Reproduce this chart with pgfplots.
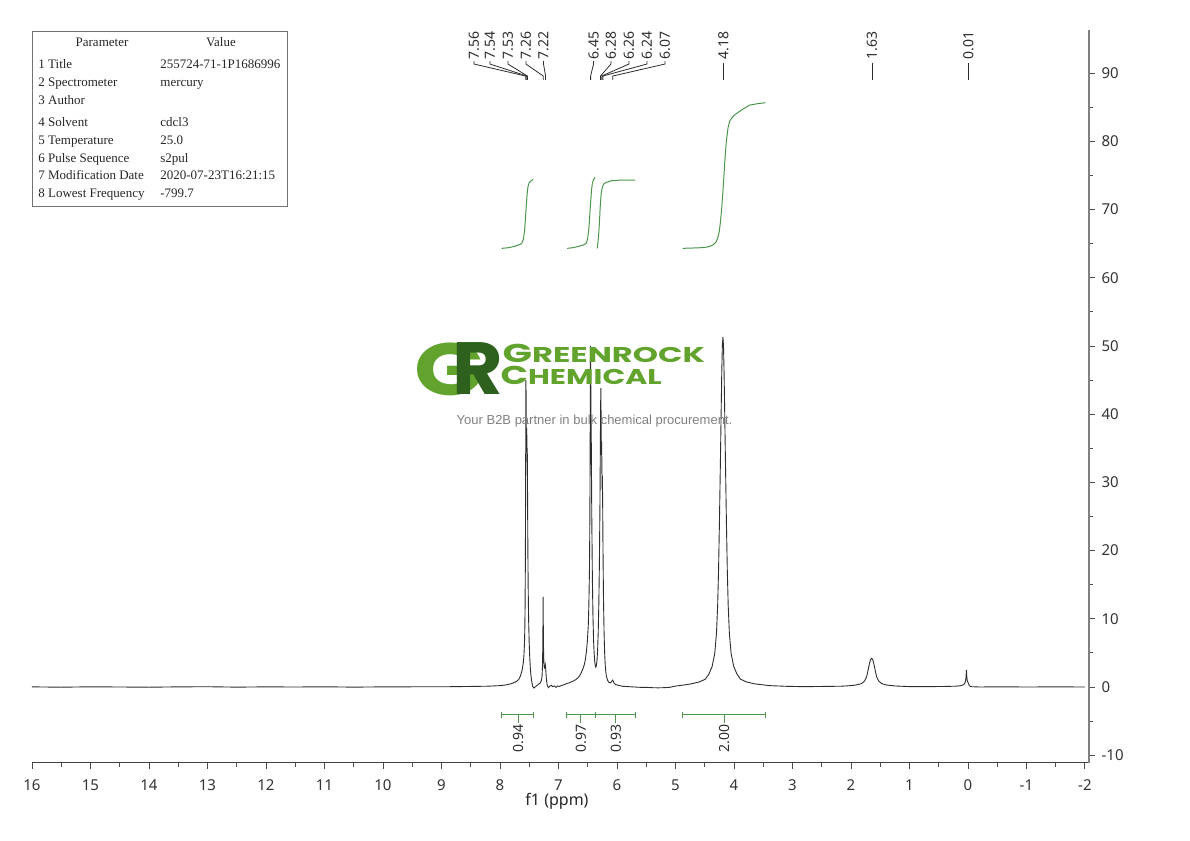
\documentclass[border=0pt]{standalone}
\usepackage{pgfplots}
\pgfplotsset{compat=1.18}
\usepackage{fontspec}
\setmainfont{Noto Sans}
\newfontfamily\tablefont{Liberation Serif}
\newfontfamily\logofont{Poppins}
\newfontfamily\tagfont{Liberation Sans}
\definecolor{spec}{RGB}{45,45,45}
\definecolor{intg}{RGB}{76,150,76}
\definecolor{logolight}{RGB}{98,163,46}
\definecolor{logodark}{RGB}{46,96,30}
\newcommand\pkf{\fontsize{7}{8}\selectfont}
\begin{document}
\begin{tikzpicture}
\useasboundingbox (-16pt,-39pt) rectangle (579pt,381.5pt);
\begin{axis}[
  scale only axis, width=528.5pt, height=366.5pt,
  at={(0,0)}, anchor=south west,
  x dir=reverse, xmin=-2.07, xmax=16, ymin=-11.14, ymax=96.31,
  axis x line*=bottom, axis y line*=right,
  x axis line style={draw=black!75, line width=0.5pt},
  y axis line style={draw=black!50, line width=1.1pt},
  xtick={-2,-1,...,16}, minor x tick num=1,
  ytick={-10,0,...,90}, minor y tick num=1,
  tick align=outside,
  major tick length=2.8pt, minor tick length=2pt,
  tick style={draw=black!70, line width=0.4pt},
  /pgf/number format/assume math mode=true,
  xticklabel style={font=\fontsize{7.5}{9}\selectfont, text=black!80, yshift=-2pt},
  yticklabel style={font=\fontsize{7.5}{9}\selectfont, text=black!80},
  clip=false,
]
\addplot[spec, line width=0.45pt] coordinates {
(16,0.02) (15.5,-0.03) (15,0.03) (14.5,0) (14,-0.03) (13.5,0.02) (13,0.04) (12.5,-0.02)
(12,0.02) (11.5,0) (11,0.03) (10.5,-0.02) (10,0.02) (9.5,0.03) (9,0.03) (8.5,0.08)
(8.2,0.12) (8.0,0.2) (7.9,0.3) (7.8,0.5) (7.72,0.8) (7.68,1.1) (7.65,1.6) (7.62,2.5)
(7.60,3.6) (7.59,4.6) (7.58,6.5) (7.575,8.5) (7.57,12) (7.565,19) (7.561,30) (7.558,40)
(7.556,45) (7.553,43) (7.549,36) (7.545,38) (7.541,37) (7.537,33) (7.533,35) (7.529,30)
(7.524,22) (7.518,15) (7.51,10) (7.50,6.5) (7.49,4.2) (7.48,2.7) (7.47,1.7) (7.46,1.0)
(7.45,0.5) (7.44,0.1) (7.42,-0.15) (7.40,0.0) (7.37,0.2) (7.34,0.4) (7.31,0.6) (7.29,1.0)
(7.28,1.6) (7.272,3.2) (7.266,7) (7.262,13.2) (7.258,8) (7.253,4.5) (7.245,3.0) (7.235,2.8)
(7.225,3.3) (7.218,2.8) (7.21,1.6) (7.20,0.7) (7.19,0.2) (7.17,-0.1) (7.15,0.1) (7.12,0.25)
(7.10,0.05) (7.07,0.15) (7.04,-0.05) (7.01,0.15) (6.98,0.1) (6.94,0.25) (6.90,0.35) (6.86,0.5)
(6.82,0.6) (6.78,0.75) (6.74,0.9) (6.70,1.1) (6.66,1.4) (6.62,1.9) (6.59,2.5) (6.56,3.2)
(6.54,4.0) (6.52,5.3) (6.505,6.8) (6.49,9) (6.48,12) (6.47,17) (6.465,22) (6.46,30)
(6.456,40) (6.452,50) (6.448,46) (6.444,40) (6.44,38) (6.436,33) (6.43,25) (6.42,16)
(6.41,10.5) (6.40,7) (6.39,5) (6.38,3.8) (6.37,3.1) (6.36,2.9) (6.35,3.2) (6.34,4.0)
(6.33,5.5) (6.32,8) (6.31,12) (6.30,18) (6.29,27) (6.284,35) (6.279,41) (6.275,43.8)
(6.271,40) (6.267,34) (6.263,36) (6.259,34) (6.254,29) (6.249,31) (6.244,27) (6.238,20)
(6.23,13) (6.22,8) (6.21,5) (6.20,3.2) (6.19,2.2) (6.18,1.6) (6.16,1.0) (6.14,0.7)
(6.11,0.6) (6.09,0.8) (6.075,1.0) (6.065,0.9) (6.05,0.6) (6.03,0.4) (6.0,0.3) (5.95,0.2)
(5.9,0.1) (5.8,0.05) (5.7,0.0) (5.6,-0.05) (5.5,-0.05) (5.4,-0.1) (5.3,-0.12) (5.2,-0.1)
(5.1,-0.05) (4.988,0.15) (4.85,0.3) (4.738,0.45) (4.588,0.75) (4.488,1.15) (4.428,1.9) (4.373,3.0)
(4.328,4.9) (4.298,7.9) (4.278,12) (4.263,17) (4.248,24) (4.233,32) (4.218,40.5) (4.208,46)
(4.198,50) (4.188,51.3) (4.178,50) (4.168,46) (4.158,40.5) (4.143,32) (4.128,24) (4.113,17)
(4.098,12) (4.078,7.9) (4.048,4.9) (4.003,3.0) (3.948,1.9) (3.888,1.15) (3.788,0.75) (3.638,0.45)
(3.388,0.2) (3.1,0.1) (2.8,0.05) (2.5,0.08) (2.3,0.1) (2.15,0.12) (2.046,0.18) (1.95,0.25)
(1.896,0.32) (1.816,0.5) (1.766,0.9) (1.731,1.5) (1.706,2.5) (1.686,3.3) (1.666,4.0) (1.646,4.2)
(1.626,4.0) (1.606,3.3) (1.586,2.5) (1.561,1.5) (1.526,0.9) (1.476,0.5) (1.396,0.3) (1.246,0.15)
(1.0,0.06) (0.7,0.05) (0.4,0.08) (0.2,0.12) (0.12,0.2) (0.07,0.35) (0.045,0.7) (0.032,1.4)
(0.025,2.5) (0.018,1.4) (0.01,0.9) (0.0,0.7) (-0.01,0.5) (-0.025,0.2) (-0.05,0.05) (-0.2,0.0)
(-0.5,0.03) (-1,0) (-1.5,0.02) (-2,0)
};
% integral curves
\addplot[intg, line width=0.5pt] coordinates {
(7.97,64.3) (7.85,64.4) (7.75,64.6) (7.68,64.8) (7.63,65.0) (7.60,65.6) (7.58,66.8)
(7.565,68.5) (7.55,70.5) (7.535,72.3) (7.52,73.4) (7.50,73.9) (7.47,74.2) (7.43,74.4)};
\addplot[intg, line width=0.5pt] coordinates {
(6.85,64.3) (6.75,64.4) (6.65,64.6) (6.57,64.8) (6.52,65.1) (6.50,65.8) (6.48,67.2)
(6.465,69.0) (6.45,71.0) (6.435,72.8) (6.42,73.8) (6.40,74.4) (6.37,74.7)};
\addplot[intg, line width=0.5pt] coordinates {
(6.337,64.3) (6.33,64.8) (6.315,66.0) (6.30,68.0) (6.285,70.5) (6.27,72.3) (6.25,73.3)
(6.22,73.8) (6.17,74.0) (6.10,74.2) (5.95,74.3) (5.69,74.3)};
\addplot[intg, line width=0.5pt] coordinates {
(4.877,64.3) (4.7,64.35) (4.55,64.4) (4.45,64.5) (4.38,64.7) (4.33,65.0) (4.30,65.3)
(4.27,66.0) (4.25,66.8) (4.23,68.2) (4.21,70.0) (4.19,72.4) (4.17,75.0) (4.15,77.8)
(4.13,80.0) (4.10,82.0) (4.07,83.0) (4.03,83.5) (3.98,83.9) (3.95,84.1) (3.85,84.7)
(3.73,85.3) (3.6,85.5) (3.46,85.65)};
% integration bars
\draw[intg, line width=0.5pt] (axis cs:7.97,-4.1) -- (axis cs:7.42,-4.1);
\draw[intg, line width=0.5pt] (axis cs:7.97,-3.66) -- (axis cs:7.97,-4.54);
\draw[intg, line width=0.5pt] (axis cs:7.42,-3.66) -- (axis cs:7.42,-4.54);
\draw[intg, line width=0.5pt] (axis cs:7.687,-4.1) -- (axis cs:7.687,-5.28);
\draw[intg, line width=0.5pt] (axis cs:6.86,-4.1) -- (axis cs:5.68,-4.1);
\draw[intg, line width=0.5pt] (axis cs:6.86,-3.66) -- (axis cs:6.86,-4.54);
\draw[intg, line width=0.5pt] (axis cs:6.36,-3.66) -- (axis cs:6.36,-4.54);
\draw[intg, line width=0.5pt] (axis cs:5.68,-3.66) -- (axis cs:5.68,-4.54);
\draw[intg, line width=0.5pt] (axis cs:6.615,-4.1) -- (axis cs:6.615,-5.28);
\draw[intg, line width=0.5pt] (axis cs:6.017,-4.1) -- (axis cs:6.017,-5.28);
\draw[intg, line width=0.5pt] (axis cs:4.877,-4.1) -- (axis cs:3.46,-4.1);
\draw[intg, line width=0.5pt] (axis cs:4.877,-3.66) -- (axis cs:4.877,-4.54);
\draw[intg, line width=0.5pt] (axis cs:3.46,-3.66) -- (axis cs:3.46,-4.54);
\draw[intg, line width=0.5pt] (axis cs:4.166,-4.1) -- (axis cs:4.166,-5.28);
\node[rotate=90, anchor=west, inner sep=0, font=\pkf, text=spec] at (axis cs:7.687,-9.67) {0.94};
\node[rotate=90, anchor=west, inner sep=0, font=\pkf, text=spec] at (axis cs:6.615,-9.67) {0.97};
\node[rotate=90, anchor=west, inner sep=0, font=\pkf, text=spec] at (axis cs:6.017,-9.67) {0.93};
\node[rotate=90, anchor=west, inner sep=0, font=\pkf, text=spec] at (axis cs:4.166,-9.67) {2.00};
% peak labels
\draw[spec, line width=0.4pt] (axis cs:8.444,91.76) -- (axis cs:8.444,91.32) -- (axis cs:7.56,89.56) -- (axis cs:7.56,88.98);
\draw[spec, line width=0.4pt] (axis cs:8.171,91.76) -- (axis cs:8.171,91.32) -- (axis cs:7.54,89.56) -- (axis cs:7.54,88.98);
\draw[spec, line width=0.4pt] (axis cs:7.863,91.76) -- (axis cs:7.863,91.32) -- (axis cs:7.53,89.56) -- (axis cs:7.53,88.98);
\draw[spec, line width=0.4pt] (axis cs:7.556,91.76) -- (axis cs:7.556,91.32) -- (axis cs:7.26,89.56) -- (axis cs:7.26,88.98);
\draw[spec, line width=0.4pt] (axis cs:7.255,91.76) -- (axis cs:7.255,91.32) -- (axis cs:7.22,89.56) -- (axis cs:7.22,88.98);
\draw[spec, line width=0.4pt] (axis cs:6.400,91.76) -- (axis cs:6.400,91.32) -- (axis cs:6.45,89.56) -- (axis cs:6.45,88.98);
\draw[spec, line width=0.4pt] (axis cs:6.103,91.76) -- (axis cs:6.103,91.32) -- (axis cs:6.28,89.56) -- (axis cs:6.28,88.98);
\draw[spec, line width=0.4pt] (axis cs:5.795,91.76) -- (axis cs:5.795,91.32) -- (axis cs:6.26,89.56) -- (axis cs:6.26,88.98);
\draw[spec, line width=0.4pt] (axis cs:5.487,91.76) -- (axis cs:5.487,91.32) -- (axis cs:6.24,89.56) -- (axis cs:6.24,88.98);
\draw[spec, line width=0.4pt] (axis cs:5.179,91.76) -- (axis cs:5.179,91.32) -- (axis cs:6.07,89.56) -- (axis cs:6.07,88.98);
\draw[spec, line width=0.4pt] (axis cs:4.18,91.47) -- (axis cs:4.18,88.98);
\draw[spec, line width=0.4pt] (axis cs:1.64,91.47) -- (axis cs:1.64,88.98);
\draw[spec, line width=0.4pt] (axis cs:-0.01,91.47) -- (axis cs:-0.01,88.98);
\node[rotate=90, anchor=west, inner sep=0, font=\pkf, text=spec] at (axis cs:8.444,91.91) {7.56};
\node[rotate=90, anchor=west, inner sep=0, font=\pkf, text=spec] at (axis cs:8.171,91.91) {7.54};
\node[rotate=90, anchor=west, inner sep=0, font=\pkf, text=spec] at (axis cs:7.863,91.91) {7.53};
\node[rotate=90, anchor=west, inner sep=0, font=\pkf, text=spec] at (axis cs:7.556,91.91) {7.26};
\node[rotate=90, anchor=west, inner sep=0, font=\pkf, text=spec] at (axis cs:7.255,91.91) {7.22};
\node[rotate=90, anchor=west, inner sep=0, font=\pkf, text=spec] at (axis cs:6.400,91.91) {6.45};
\node[rotate=90, anchor=west, inner sep=0, font=\pkf, text=spec] at (axis cs:6.103,91.91) {6.28};
\node[rotate=90, anchor=west, inner sep=0, font=\pkf, text=spec] at (axis cs:5.795,91.91) {6.26};
\node[rotate=90, anchor=west, inner sep=0, font=\pkf, text=spec] at (axis cs:5.487,91.91) {6.24};
\node[rotate=90, anchor=west, inner sep=0, font=\pkf, text=spec] at (axis cs:5.179,91.91) {6.07};
\node[rotate=90, anchor=west, inner sep=0, font=\pkf, text=spec] at (axis cs:4.18,91.91) {4.18};
\node[rotate=90, anchor=west, inner sep=0, font=\pkf, text=spec] at (axis cs:1.64,91.91) {1.63};
\node[rotate=90, anchor=west, inner sep=0, font=\pkf, text=spec] at (axis cs:-0.01,91.91) {0.01};
\end{axis}
% x label
\node[font=\fontsize{8}{9}\selectfont, text=black!85] at (262.5pt,-19pt) {f1 (ppm)};
% parameter table
\draw[black!55, line width=0.5pt] (0.5pt,278pt) rectangle (127.5pt,365.5pt);
\begin{scope}[every node/.style={inner sep=0, font=\tablefont\fontsize{6.5}{7}\selectfont, text=black!85}]
\node[anchor=base] at (35pt,358pt) {Parameter};
\node[anchor=base] at (94.5pt,358pt) {Value};
\node[anchor=base west] at (3pt,347pt) {1 Title};
\node[anchor=base west] at (64pt,347pt) {255724-71-1P1686996};
\node[anchor=base west] at (3pt,338pt) {2 Spectrometer};
\node[anchor=base west] at (64pt,338pt) {mercury};
\node[anchor=base west] at (3pt,329pt) {3 Author};
\node[anchor=base west] at (3pt,318pt) {4 Solvent};
\node[anchor=base west] at (64pt,318pt) {cdcl3};
\node[anchor=base west] at (3pt,309pt) {5 Temperature};
\node[anchor=base west] at (64pt,309pt) {25.0};
\node[anchor=base west] at (3pt,300pt) {6 Pulse Sequence};
\node[anchor=base west] at (64pt,300pt) {s2pul};
\node[anchor=base west] at (3pt,291.5pt) {7 Modification Date};
\node[anchor=base west] at (64pt,291.5pt) {2020-07-23T16:21:15};
\node[anchor=base west] at (3pt,282.5pt) {8 Lowest Frequency};
\node[anchor=base west] at (64pt,282.5pt) {-799.7};
\end{scope}
% watermark logo
\node[inner sep=0, xscale=1.25, text=logolight, font=\logofont\bfseries\fontsize{37}{37}\selectfont] at (209pt,197pt) {G};
\node[inner sep=0, xscale=1.05, text=logodark, font=\logofont\bfseries\fontsize{37}{37}\selectfont] at (222.75pt,197pt) {R};
\node[inner sep=0, anchor=base west, xscale=1.5, text=logolight, font=\logofont\bfseries] at (235pt,200pt) {{\fontsize{12.9}{13}\selectfont G}{\fontsize{10.7}{11}\selectfont REENROCK}};
\node[inner sep=0, anchor=base west, xscale=1.4, text=logolight, font=\logofont\bfseries] at (234pt,189pt) {{\fontsize{12.9}{13}\selectfont C}{\fontsize{10.7}{11}\selectfont HEMICAL}};
\node[inner sep=0, anchor=base, text=black!50, font=\tagfont\fontsize{6.5}{7}\selectfont] at (281.25pt,169pt) {Your B2B partner in bulk chemical procurement.};
\end{tikzpicture}
\end{document}
